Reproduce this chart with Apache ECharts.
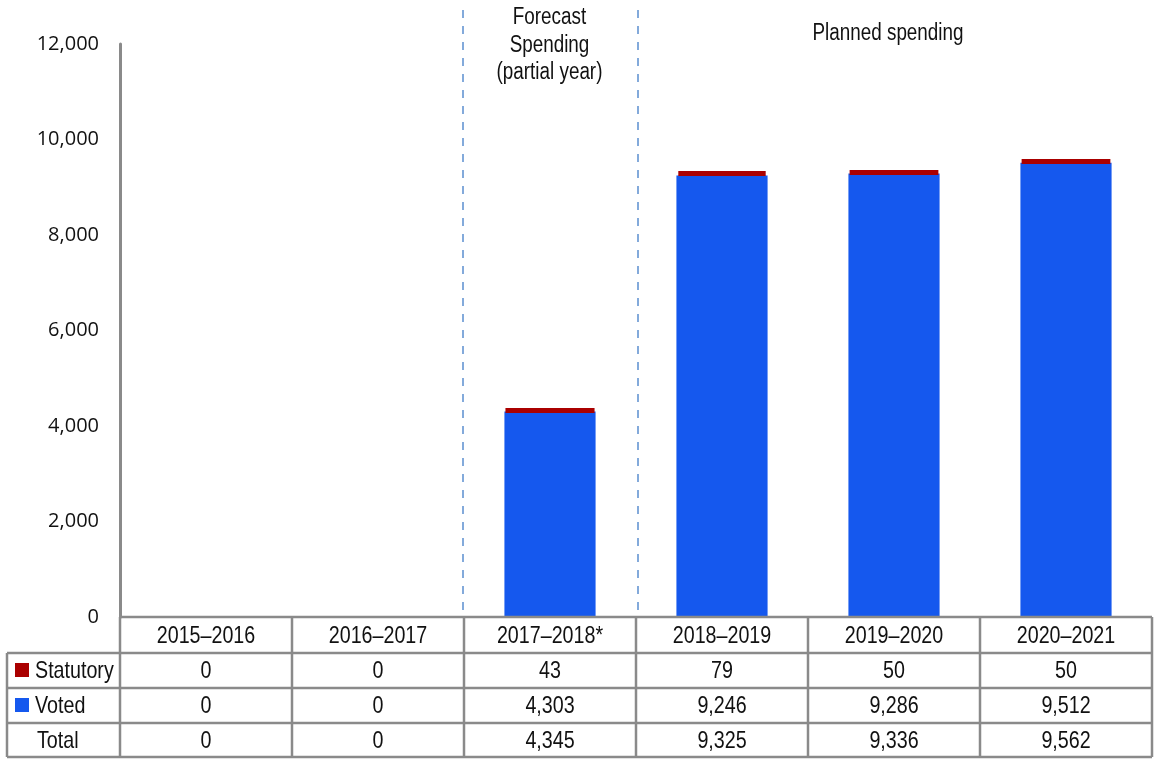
<!DOCTYPE html>
<html>
<head>
<meta charset="utf-8">
<script src="https://cdn.jsdelivr.net/npm/echarts@6/dist/echarts.min.js"></script>
<style>
html,body{margin:0;padding:0;background:#fff;}
#chart{width:1155px;height:759px;}
</style>
</head>
<body>
<div id="chart"></div>
<script>
const categories = ['2015–2016', '2016–2017', '2017–2018*', '2018–2019', '2019–2020', '2020–2021'];
const statutory = [0, 0, 43, 79, 50, 50];
const voted = [0, 0, 4303, 9246, 9286, 9512];
const totals = [0, 0, 4345, 9325, 9336, 9562];
const yMax = 12000;
const yInterval = 2000;
const forecastLabel = 'Forecast\nSpending\n(partial year)';
const plannedLabel = 'Planned spending';

const BLUE = '#1558EE';
const RED = '#AA0000';
const GREY = '#8a8a8a';
const SANS = '"Liberation Sans", Arial, sans-serif';
const NARROW_SCALE = 0.82;

const chart = echarts.init(document.getElementById('chart'), null, {renderer: 'canvas'});
const GRID = {left: 120, right: 3, top: 44, bottom: 142};

// zero values are not drawn as bars (only shown in the table)
const noZero = arr => arr.map(v => (v === 0 ? '-' : v));

chart.setOption({
  animation: false,
  grid: GRID,
  xAxis: {
    type: 'category',
    data: categories,
    axisLine: {show: false},
    axisTick: {show: false},
    axisLabel: {show: false}
  },
  yAxis: {
    type: 'value',
    min: 0,
    max: yMax,
    interval: yInterval,
    axisLine: {show: true, lineStyle: {color: GREY, width: 3}},
    axisTick: {show: false},
    splitLine: {show: false},
    axisLabel: {
      margin: 21,
      color: '#111',
      fontSize: 20,
      fontFamily: '"Open Sans", "Noto Sans", sans-serif',
      formatter: v => v.toLocaleString('en-US')
    }
  },
  series: [
    {name: 'Voted', type: 'bar', stack: 's', data: noZero(voted), barWidth: '53%',
     itemStyle: {color: BLUE}},
    {name: 'Statutory', type: 'bar', stack: 's', data: noZero(statutory), barWidth: '53%',
     itemStyle: {color: RED, borderColor: RED, borderWidth: 5, borderRadius: 2}}
  ]
});

function buildGraphic() {
  const g = [];
  const centers = categories.map((c, i) => chart.convertToPixel({xAxisIndex: 0}, i));
  const cw = centers.length > 1 ? centers[1] - centers[0] : 172;
  const xl = GRID.left;
  const xr = centers[centers.length - 1] + cw / 2;
  const rows = [617, 653, 688, 723, 757];
  const leftX = 7;
  const line = (x1, y1, x2, y2) => g.push({
    type: 'line', shape: {x1, y1, x2, y2},
    style: {stroke: GREY, lineWidth: 2.5}, z: 10
  });
  const text = (x, y, t, align, size, va, lh) => g.push({
    type: 'text', x, y, scaleX: NARROW_SCALE,
    style: {text: t, fill: '#111', font: (size || 24) + 'px ' + SANS,
            align: align || 'center', verticalAlign: va || 'middle', lineHeight: lh},
    z: 11
  });

  // horizontal table lines
  line(xl, rows[0], xr, rows[0]);
  for (let r = 1; r < rows.length; r++) line(leftX, rows[r], xr, rows[r]);
  // vertical lines
  line(leftX, rows[1], leftX, rows[4]);
  line(xl, rows[0], xl, rows[4]);
  centers.forEach(c => line(c + cw / 2, rows[0], c + cw / 2, rows[4]));

  // header + values
  const fmt = v => v.toLocaleString('en-US');
  categories.forEach((c, i) => {
    text(centers[i], (rows[0] + rows[1]) / 2 + 1, c);
    text(centers[i], (rows[1] + rows[2]) / 2 + 1, fmt(statutory[i]));
    text(centers[i], (rows[2] + rows[3]) / 2 + 1, fmt(voted[i]));
    text(centers[i], (rows[3] + rows[4]) / 2 + 1, fmt(totals[i]));
  });
  // row labels
  g.push({type: 'rect', shape: {x: 15, y: 663, width: 14, height: 14}, style: {fill: RED}, z: 11});
  g.push({type: 'rect', shape: {x: 15, y: 698, width: 14, height: 14}, style: {fill: BLUE}, z: 11});
  text(35, (rows[1] + rows[2]) / 2 + 1, 'Statutory', 'left');
  text(35, (rows[2] + rows[3]) / 2 + 1, 'Voted', 'left');
  text(37, (rows[3] + rows[4]) / 2 + 1, 'Total', 'left');

  // dashed separators between actual / forecast / planned
  const sep1 = centers[2] - cw / 2 - 1;
  const sep2 = centers[3] - cw / 2 + 2;
  [sep1, sep2].forEach(x => g.push({
    type: 'line', shape: {x1: x, y1: 10, x2: x, y2: 615},
    style: {stroke: '#5b8fd0', lineWidth: 1.5, lineDash: [8, 8]}, z: 5
  }));

  // annotations
  text((sep1 + sep2) / 2 - 1, 4, forecastLabel, 'center', 23, 'top', 27.5);
  const plannedCenter = (sep2 + xr) / 2;
  text(plannedCenter - 7, 34, plannedLabel, 'center', 23);
  return g;
}

chart.setOption({graphic: buildGraphic()});
</script>
</body>
</html>
